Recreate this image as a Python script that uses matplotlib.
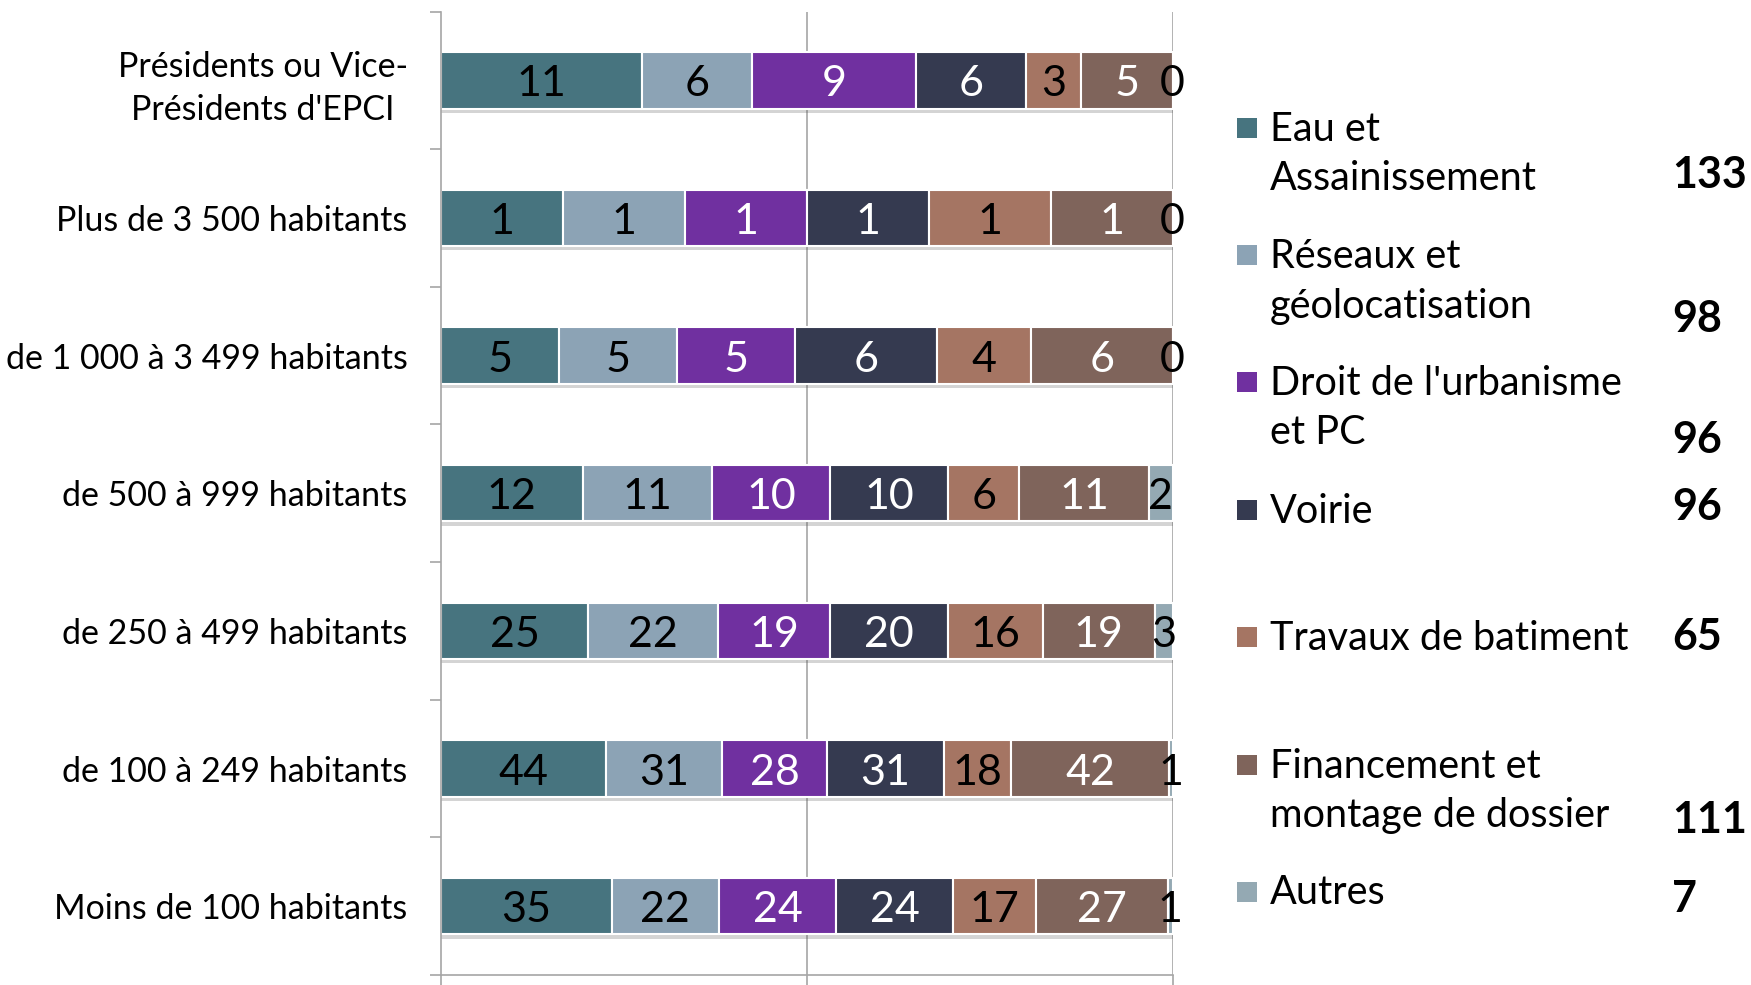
import numpy as np
import matplotlib
matplotlib.use("Agg")
import matplotlib.pyplot as plt
import matplotlib.patheffects as pe
from matplotlib.patches import Rectangle

plt.rcParams['font.family'] = ['Lato', 'DejaVu Sans']

# Row categories (top to bottom)
categories = ["Présidents ou Vice-\nPrésidents d'EPCI",
              "Plus de 3 500 habitants",
              "de 1 000 à 3 499 habitants",
              "de 500 à 999 habitants",
              "de 250 à 499 habitants",
              "de 100 à 249 habitants",
              "Moins de 100 habitants"]

# Series names as shown in the legend (one entry per line)
series_names = [["Eau et", "Assainissement"],
                ["Réseaux et", "géolocatisation"],
                ["Droit de l'urbanisme", "et PC"],
                ["Voirie"],
                ["Travaux de batiment"],
                ["Financement et", "montage de dossier"],
                ["Autres"]]

# Counts per category for each theme
eau = [11, 1, 5, 12, 25, 44, 35]
reseaux = [6, 1, 5, 11, 22, 31, 22]
droit = [9, 1, 5, 10, 19, 28, 24]
voirie = [6, 1, 6, 10, 20, 31, 24]
travaux = [3, 1, 4, 6, 16, 18, 17]
financement = [5, 1, 6, 11, 19, 42, 27]
autres = [0, 0, 0, 2, 3, 1, 1]

# Totals printed beside the legend
legend_totals = [133, 98, 96, 96, 65, 111, 7]

series = [eau, reseaux, droit, voirie, travaux, financement, autres]
colors = ['#47747F', '#8CA3B5', '#7030A0', '#353A50', '#A57563', '#7F645B', '#94A9B3']
label_colors = ['black', 'black', 'white', 'white', 'black', 'white', 'black']

W, H = 1751, 985
fig = plt.figure(figsize=(W / 100, H / 100), dpi=100)
fig.patch.set_facecolor('white')

def fx(px):
    return px / W

def fy(py):
    return 1 - py / H

ax = fig.add_axes([fx(441), fy(975), fx(1172.5) - fx(441), fy(11.5) - fy(975)])

data = np.array(series, dtype=float)
row_totals = data.sum(axis=0)
shares = data / row_totals
y = np.arange(len(categories))
bar_h = 0.41

# Vertical gridlines
for gx in (0.5, 1.0):
    ax.axvline(gx, color='#A6A6A6', lw=1.2, zorder=0)

shadow = [pe.SimplePatchShadow(offset=(0, -3), shadow_rgbFace='#555555', alpha=0.25), pe.Normal()]

left = np.zeros(len(categories))
for i, (vals, col) in enumerate(zip(series, colors)):
    bars = ax.barh(y, shares[i], left=left, height=bar_h, color=col,
                   edgecolor='white', linewidth=1.5, zorder=2)
    for b in bars:
        b.set_path_effects(shadow)
    for j, v in enumerate(vals):
        cx = left[j] + shares[i][j] / 2
        ax.text(cx, y[j] + 0.03, f"{v}", ha='center', va='center',
                fontsize=31, color=label_colors[i] if v > 0 else 'black', zorder=4)
    left = left + shares[i]

ax.set_xlim(0, 1)
ax.set_ylim(len(categories) - 0.5, -0.5)

# Spines and ticks
for s in ('top', 'right'):
    ax.spines[s].set_visible(False)
for s in ('left', 'bottom'):
    ax.spines[s].set_color('#A6A6A6')
    ax.spines[s].set_linewidth(1.2)

ax.set_xticks([0, 0.5, 1.0])
ax.set_xticklabels([])
ax.tick_params(axis='x', length=8, width=1.2, color='#A6A6A6', direction='out')

ax.set_yticks(np.arange(-0.5, len(categories) + 0.5, 1.0))
ax.set_yticklabels([])
ax.tick_params(axis='y', which='major', length=8, width=1.2, color='#A6A6A6', direction='out')
ax.set_yticks(y, minor=True)
ax.set_yticklabels(categories, minor=True, fontsize=24.5)
ax.tick_params(axis='y', which='minor', length=0, pad=24)
for lbl in ax.get_yticklabels(minor=True):
    lbl.set_multialignment('center')
    lbl.set_linespacing(1.4)

# Legend drawn beside the plot with totals
line_baselines = [[140.7, 189.8], [268.0, 318.3], [395.3, 444.4], [522.6],
                  [649.9], [778.3, 827.5], [904.5]]
total_baselines = [187.6, 331.7, 453.4, 520.4, 649.9, 833.0, 912.3]
for names, bls, col, tot, tb in zip(series_names, line_baselines, colors,
                                    legend_totals, total_baselines):
    sq = Rectangle((fx(1237), fy(bls[0] - 3)), fx(20), fy(0) - fy(20),
                   transform=fig.transFigure, facecolor=col, edgecolor='none')
    fig.patches.append(sq)
    for name, bl in zip(names, bls):
        fig.text(fx(1270), fy(bl), name, ha='left', va='baseline', fontsize=28.5)
    fig.text(fx(1672), fy(tb), f"{tot}", ha='left', va='baseline',
             fontsize=31, fontweight='bold')

fig.savefig('out.png', dpi=100, facecolor='white')
